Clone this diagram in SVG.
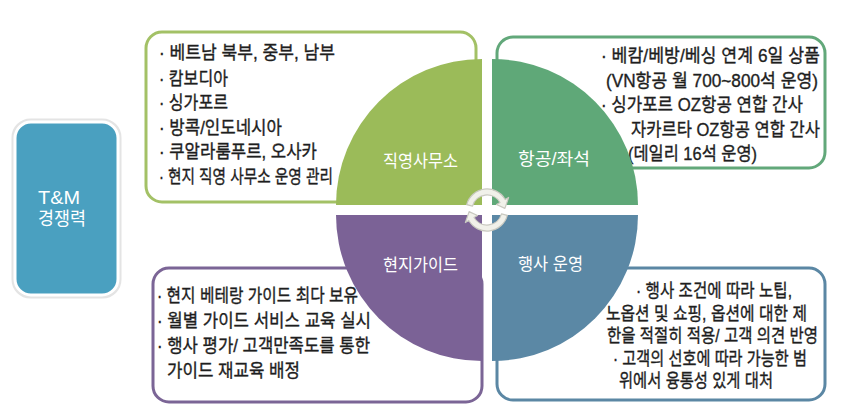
<svg xmlns="http://www.w3.org/2000/svg" width="858" height="420" viewBox="0 0 858 420">
<style>
  text { font-family: "Liberation Sans", "Noto Sans CJK KR", sans-serif; }
  .body { font-size: 18.5px; fill: #1e1e1e; stroke: #1e1e1e; stroke-width: 0.35; }
  .lbl { font-size: 17.5px; fill: #ffffff; }
  .tm { font-size: 18px; fill: #ffffff; }
  .box { fill: #ffffff; stroke-width: 3; }
  .arc { fill: #f1f1ea; stroke: #c9c9c0; stroke-width: 1.2; stroke-linejoin: round; }
</style>
<rect width="858" height="420" fill="#ffffff"/>

<g id="tm-node">
  <rect x="13.5" y="120.5" width="106" height="176" rx="17" fill="none" stroke="#e4e4e4" stroke-width="4"/>
  <rect x="15" y="122" width="103" height="173" rx="16" fill="#4aa0c0" stroke="#ffffff" stroke-width="3"/>
  <text class="tm" x="38" y="203.5" textLength="42" lengthAdjust="spacingAndGlyphs">T&amp;M</text>
  <text class="tm" x="38" y="224.5" textLength="48" lengthAdjust="spacingAndGlyphs">경쟁력</text>
</g>

<g id="office-box">
  <rect class="box" x="146" y="32" width="330" height="170" rx="16" stroke="#a3c166"/>
  <text class="body" x="159" y="59" textLength="176" lengthAdjust="spacingAndGlyphs">· 베트남 북부, 중부, 남부</text>
  <text class="body" x="159" y="85" textLength="69" lengthAdjust="spacingAndGlyphs">· 캄보디아</text>
  <text class="body" x="159" y="108.5" textLength="69" lengthAdjust="spacingAndGlyphs">· 싱가포르</text>
  <text class="body" x="159" y="133.5" textLength="123" lengthAdjust="spacingAndGlyphs">· 방콕/인도네시아</text>
  <text class="body" x="159" y="158" textLength="158" lengthAdjust="spacingAndGlyphs">· 쿠알라룸푸르, 오사카</text>
  <text class="body" x="159" y="182.5" textLength="174" lengthAdjust="spacingAndGlyphs">· 현지 직영 사무소 운영 관리</text>
</g>

<g id="air-box">
  <rect class="box" x="497" y="37" width="328" height="131" rx="16" stroke="#62a87a"/>
  <text class="body" x="601" y="61.5" textLength="219" lengthAdjust="spacingAndGlyphs">· 베캄/베방/베싱 연계 6일 상품</text>
  <text class="body" x="606" y="86.5" textLength="212" lengthAdjust="spacingAndGlyphs">(VN항공 월 700~800석 운영)</text>
  <text class="body" x="601" y="111" textLength="202" lengthAdjust="spacingAndGlyphs">· 싱가포르 OZ항공 연합 간사</text>
  <text class="body" x="631" y="135.5" textLength="189" lengthAdjust="spacingAndGlyphs">자카르타 OZ항공 연합 간사</text>
  <text class="body" x="628" y="160" textLength="129" lengthAdjust="spacingAndGlyphs">(데일리 16석 운영)</text>
</g>

<g id="guide-box">
  <rect class="box" x="153" y="268" width="329" height="134" rx="16" stroke="#7b6596"/>
  <text class="body" x="157" y="302" textLength="201" lengthAdjust="spacingAndGlyphs">· 현지 베테랑 가이드 최다 보유</text>
  <text class="body" x="157" y="327" textLength="214" lengthAdjust="spacingAndGlyphs">· 월별 가이드 서비스 교육 실시</text>
  <text class="body" x="157" y="352" textLength="213" lengthAdjust="spacingAndGlyphs">· 행사 평가/ 고객만족도를 통한</text>
  <text class="body" x="167" y="377" textLength="133" lengthAdjust="spacingAndGlyphs">가이드 재교육 배정</text>
</g>

<g id="tour-box">
  <rect class="box" x="497" y="268" width="328" height="132" rx="16" stroke="#5b87a4"/>
  <text class="body" x="636" y="296.5" textLength="156" lengthAdjust="spacingAndGlyphs">· 행사 조건에 따라 노팁,</text>
  <text class="body" x="606" y="319.5" textLength="201" lengthAdjust="spacingAndGlyphs">노옵션 및 쇼핑, 옵션에 대한 제</text>
  <text class="body" x="607" y="341.5" textLength="211" lengthAdjust="spacingAndGlyphs">한을 적절히 적용/ 고객 의견 반영</text>
  <text class="body" x="613" y="364.5" textLength="194" lengthAdjust="spacingAndGlyphs">· 고객의 선호에 따라 가능한 범</text>
  <text class="body" x="619" y="387" textLength="154" lengthAdjust="spacingAndGlyphs">위에서 융통성 있게 대처</text>
</g>

<g id="office">
  <path d="M482,205 L482,59 A146,146 0 0 0 336,205 Z" fill="#9bbb59"/>
  <text class="lbl" x="383" y="166.5" textLength="75" lengthAdjust="spacingAndGlyphs">직영사무소</text>
</g>
<g id="air">
  <path d="M492,205 L492,59 A146,146 0 0 1 638,205 Z" fill="#5fa878"/>
  <text class="lbl" x="518" y="164.5" textLength="72" lengthAdjust="spacingAndGlyphs">항공/좌석</text>
</g>
<g id="guide">
  <path d="M482,215 L482,361 A146,146 0 0 1 336,215 Z" fill="#7b6296"/>
  <text class="lbl" x="383" y="270.5" textLength="75" lengthAdjust="spacingAndGlyphs">현지가이드</text>
</g>
<g id="tour">
  <path d="M492,215 L492,361 A146,146 0 0 0 638,215 Z" fill="#5b88a5"/>
  <text class="lbl" x="518" y="269.5" textLength="65" lengthAdjust="spacingAndGlyphs">행사 운영</text>
</g>

<g id="connectors">
  <path id="cycle-top" class="arc" d="M466.7,204.6 A21,21 0 0 1 505.2,199.5 L508.6,197.5 L504.9,208.4 L496.5,204.5 L500,202.5 A15,15 0 0 0 472.5,206.1 Z"/>
  <path id="cycle-bottom" class="arc" transform="rotate(180 487 210)" d="M466.7,204.6 A21,21 0 0 1 505.2,199.5 L508.6,197.5 L504.9,208.4 L496.5,204.5 L500,202.5 A15,15 0 0 0 472.5,206.1 Z"/>
</g>
</svg>
